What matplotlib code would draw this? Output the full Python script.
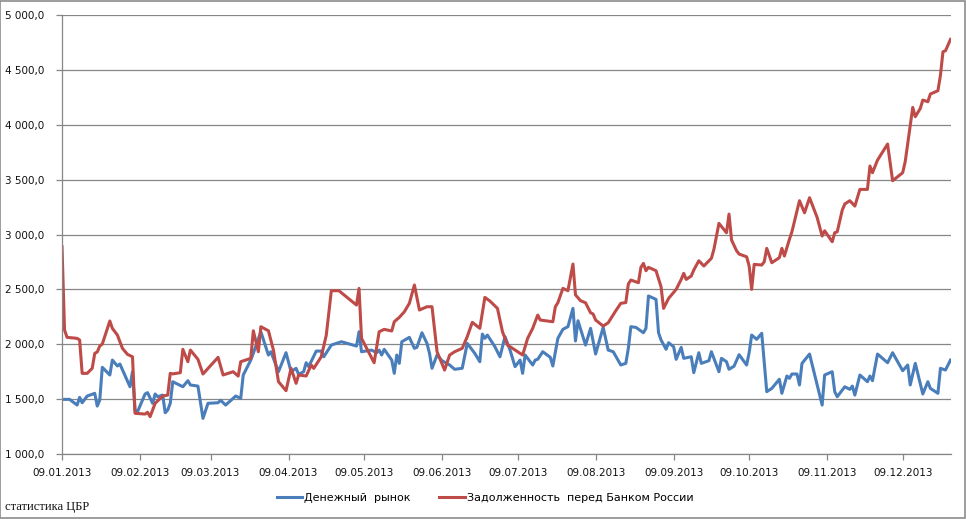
import matplotlib.pyplot as plt
import matplotlib.dates as mdates
from matplotlib.patches import Rectangle
from matplotlib.ticker import FuncFormatter
import numpy as np

# === Data (day offsets counted from 09.01.2013) ===
start = np.datetime64("2013-01-09")

red_day = [0, 1, 2, 6, 7, 8, 10, 12, 13, 14, 15, 16, 19, 20, 22, 24, 26, 28, 29, 33,
           34, 35, 37, 40, 42, 43, 44, 47, 48, 50, 51, 54, 56, 62, 64, 68, 70, 71, 75, 76,
           78, 79, 82, 84, 86, 89, 91, 93, 94, 97, 99, 100, 103, 105, 107, 110, 117, 118, 119, 124,
           126, 128, 131, 132, 134, 136, 138, 140, 142, 145, 147, 149, 152, 154, 156, 159, 161, 163, 166, 168,
           170, 173, 175, 177, 182, 183, 185, 187, 189, 190, 195, 196, 197, 199, 201, 203, 204, 206, 208, 210,
           211, 212, 215, 217, 220, 222, 224, 225, 226, 229, 230, 231, 232, 233, 236, 238, 239, 241, 244, 246,
           247, 248, 250, 251, 253, 255, 258, 259, 261, 264, 265, 266, 268, 269, 272, 273, 274, 275, 278, 279,
           280, 282, 285, 286, 287, 289, 290, 293, 295, 297, 300, 302, 303, 306, 307, 308, 310, 311, 313, 315,
           317, 320, 321, 322, 324, 328, 330, 334, 335, 338, 339, 341, 342, 344, 345, 348, 349, 350, 351, 353]
red_val = [2889, 2130, 2063, 2054, 2039, 1735, 1735, 1781, 1917, 1930, 1984, 2002, 2212, 2145, 2084, 1963, 1908, 1886, 1371, 1364,
           1380, 1340, 1462, 1528, 1537, 1735, 1730, 1741, 1954, 1841, 1947, 1863, 1729, 1881, 1720, 1750, 1710, 1841, 1872, 2123,
           1932, 2160, 2123, 1947, 1659, 1577, 1781, 1644, 1720, 1711, 1811, 1780, 1886, 2084, 2488, 2488, 2357, 2509, 2054, 1832,
           2114, 2136, 2121, 2205, 2245, 2296, 2373, 2540, 2312, 2342, 2342, 1932, 1765, 1902, 1932, 1963, 2069, 2200, 2145, 2427,
           2394, 2327, 2114, 1993, 1917, 1902, 2054, 2145, 2266, 2221, 2205, 2342, 2378, 2509, 2488, 2731, 2450, 2397, 2378, 2287,
           2276, 2221, 2166, 2196, 2305, 2373, 2380, 2549, 2585, 2561, 2701, 2737, 2670, 2701, 2670, 2524, 2327, 2418, 2500, 2591,
           2646, 2591, 2622, 2676, 2761, 2713, 2783, 2865, 3102, 3016, 3186, 2950, 2852, 2822, 2797, 2713, 2500, 2728, 2722, 2752,
           2874, 2743, 2789, 2874, 2804, 2956, 3025, 3308, 3198, 3335, 3156, 2986, 3034, 2934, 3016, 3025, 3223, 3278, 3308, 3259,
           3411, 3411, 3624, 3563, 3678, 3824, 3490, 3563, 3663, 4158, 4073, 4149, 4225, 4210, 4280, 4310, 4450, 4665, 4674, 4778]

blue_day = [0, 3, 6, 7, 8, 10, 13, 14, 15, 16, 19, 20, 22, 23, 27, 28, 29, 30, 33, 34,
            36, 37, 38, 40, 41, 42, 43, 44, 48, 50, 51, 54, 56, 58, 62, 63, 65, 69, 71, 72,
            75, 76, 79, 82, 83, 86, 89, 91, 93, 94, 96, 97, 98, 101, 103, 104, 107, 111, 117, 118,
            119, 123, 125, 126, 127, 128, 131, 132, 133, 134, 135, 138, 140, 141, 143, 145, 146, 147, 149, 151,
            154, 156, 159, 161, 164, 166, 167, 168, 169, 172, 174, 176, 178, 180, 182, 183, 184, 187, 188, 189,
            191, 194, 195, 197, 199, 201, 203, 204, 205, 208, 210, 212, 215, 217, 219, 222, 224, 225, 226, 228,
            231, 232, 233, 236, 237, 238, 240, 241, 243, 244, 246, 247, 250, 251, 253, 254, 257, 258, 261, 262,
            264, 265, 267, 269, 272, 273, 274, 276, 278, 280, 282, 285, 286, 288, 289, 290, 292, 293, 294, 297,
            302, 303, 306, 307, 308, 311, 313, 314, 315, 317, 320, 321, 322, 324, 328, 330, 334, 336, 337, 339,
            342, 344, 345, 348, 349, 351, 353]
blue_val = [1498, 1498, 1446, 1516, 1467, 1528, 1553, 1437, 1492, 1790, 1720, 1856, 1802, 1820, 1613, 1750, 1401, 1385, 1547, 1559,
            1462, 1547, 1522, 1537, 1376, 1401, 1462, 1659, 1613, 1668, 1629, 1619, 1325, 1462, 1467, 1490, 1446, 1528, 1507, 1720,
            1856, 1917, 2114, 1902, 1932, 1750, 1923, 1750, 1781, 1726, 1750, 1832, 1796, 1938, 1938, 1886, 1993, 2023, 1984, 2114,
            1932, 1947, 1923, 1947, 1902, 1954, 1856, 1735, 1902, 1826, 2023, 2063, 1963, 1972, 2105, 2008, 1917, 1781, 1902, 1850,
            1811, 1772, 1781, 2008, 1917, 1841, 2093, 2054, 2084, 1977, 1886, 2069, 1947, 1796, 1856, 1735, 1902, 1811, 1856, 1863,
            1932, 1881, 1802, 2054, 2136, 2160, 2327, 2030, 2214, 1993, 2145, 1911, 2154, 1947, 1932, 1811, 1826, 1963, 2160, 2154,
            2105, 2145, 2440, 2409, 2105, 2039, 1954, 2014, 1977, 1863, 1972, 1872, 1886, 1741, 1923, 1826, 1850, 1932, 1750, 1872,
            1841, 1772, 1800, 1905, 1811, 1923, 2084, 2045, 2100, 1568, 1598, 1681, 1553, 1711, 1690, 1729, 1729, 1629, 1826, 1911,
            1446, 1720, 1750, 1568, 1522, 1613, 1589, 1619, 1537, 1720, 1659, 1711, 1668, 1911, 1832, 1923, 1759, 1811, 1629, 1826,
            1547, 1659, 1598, 1553, 1781, 1765, 1856]

tick_dates = ["2013-01-09", "2013-02-09", "2013-03-09", "2013-04-09", "2013-05-09", "2013-06-09",
              "2013-07-09", "2013-08-09", "2013-09-09", "2013-10-09", "2013-11-09", "2013-12-09"]
y_ticks = [1000, 1500, 2000, 2500, 3000, 3500, 4000, 4500, 5000]

blue_label = "Денежный  рынок"
red_label = "Задолженность  перед Банком России"

# === Chart ===
red_x = start + np.array(red_day).astype("timedelta64[D]")
blue_x = start + np.array(blue_day).astype("timedelta64[D]")

fig = plt.figure(figsize=(9.66, 5.19), dpi=100)
ax = fig.add_axes([0.0642, 0.1252, 0.9203, 0.8459])

grid_col = "#868686"
ax.plot(blue_x, blue_val, color="#4A7EBB", lw=2.2, label=blue_label, solid_joinstyle="round")
ax.plot(red_x, red_val, color="#BE4B48", lw=2.2, label=red_label, solid_joinstyle="round")

ax.set_ylim(1000, 5000)
ax.set_xlim(start, start + np.timedelta64(353 * 24 + 5, "h"))
ax.set_yticks(y_ticks)
ax.yaxis.set_major_formatter(FuncFormatter(lambda v, p: f"{int(v):,}".replace(",", " ") + ",0"))
ax.set_xticks(np.array(tick_dates, dtype="datetime64[D]"))
ax.xaxis.set_major_formatter(mdates.DateFormatter("%d.%m.%Y"))

ax.grid(axis="y", color=grid_col, lw=0.9)
ax.set_axisbelow(True)
for s in ["top", "right"]:
    ax.spines[s].set_visible(False)
for s in ["left", "bottom"]:
    ax.spines[s].set_color(grid_col)
    ax.spines[s].set_linewidth(0.9)
ax.tick_params(axis="both", colors=grid_col, length=4, width=0.9, labelsize=7.5,
               labelcolor="#111111")
ax.tick_params(axis="x", pad=6)
ax.tick_params(axis="y", pad=9)

fig.legend(loc="center", bbox_to_anchor=(0.502, 0.0405), ncol=2, frameon=False,
           fontsize=8, handlelength=2.3, columnspacing=2.6, handletextpad=0.15)

fig.text(0.005, 0.018, "статистика ЦБР", family="Liberation Serif", fontsize=9, color="#111111")
fig.patches.append(Rectangle((0.0005, 0.001), 0.998, 0.997, transform=fig.transFigure,
                             fill=False, edgecolor="#8C8C8C", lw=1.2))

fig.savefig("out.png", dpi=100)
